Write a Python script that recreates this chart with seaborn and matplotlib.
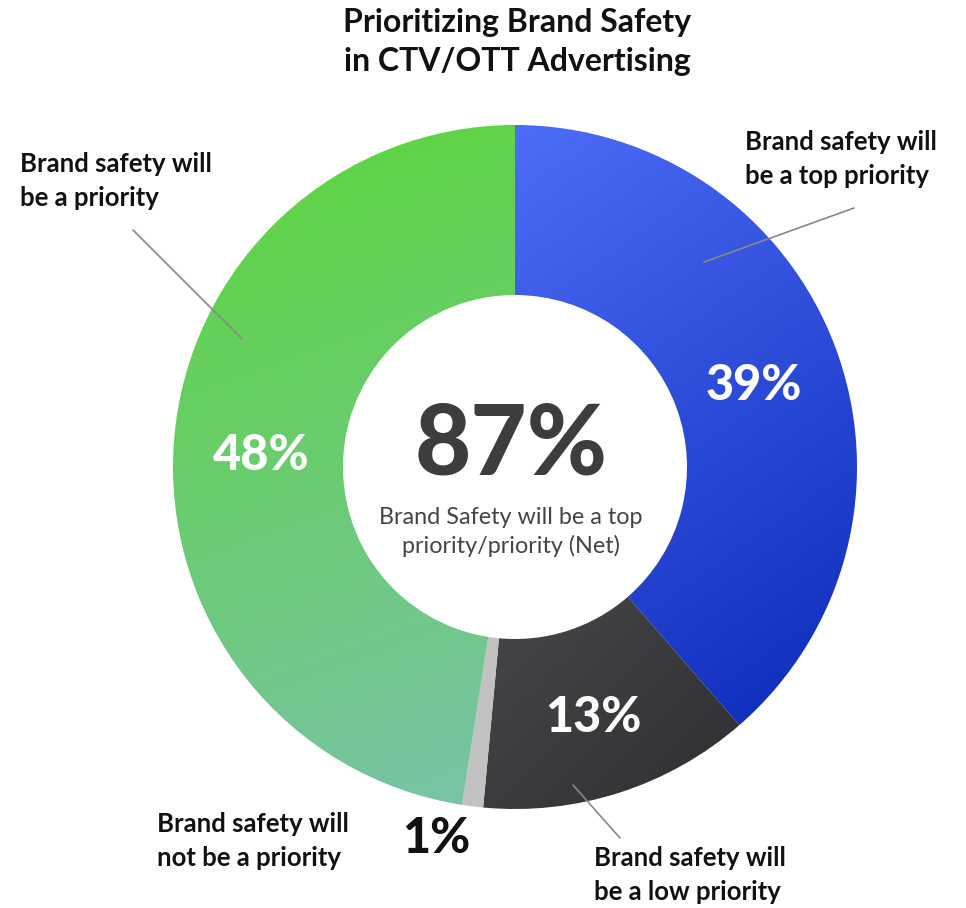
import numpy as np
import matplotlib
matplotlib.use("Agg")
import matplotlib.pyplot as plt
from matplotlib.colors import LinearSegmentedColormap
import seaborn as sns

# Survey shares, clockwise from 12 o'clock
categories = [
    "Brand safety will\nbe a top priority",
    "Brand safety will\nbe a low priority",
    "Brand safety will\nnot be a priority",
    "Brand safety will\nbe a priority",
]
shares = [39, 13, 1, 48]
net_label = "Brand Safety will be a top\npriority/priority (Net)"
title = "Prioritizing Brand Safety\nin CTV/OTT Advertising"

# gradient stops per slice: (start colour, end colour, direction in degrees)
gradients = [
    ("#4c6df8", "#0c2ab8", -55),
    ("#45474a", "#2e2f31", -45),
    ("#c2c2c2", "#c2c2c2", -90),
    ("#5cd63a", "#79c3a8", -70),
]

sns.set_theme(style="white")
plt.rcParams["font.family"] = ["Lato", "DejaVu Sans"]

W, H = 966, 908
fig = plt.figure(figsize=(W / 100, H / 100), dpi=100)
ax = fig.add_axes([0, 0, 1, 1])


def P(x, y):
    """Pixel position measured from the top-left corner -> data coords."""
    return x, H - y


cx, cy = P(515, 467)
R_OUT, R_IN = 342, 172

wedges, _ = ax.pie(
    shares,
    startangle=90,
    counterclock=False,
    radius=R_OUT,
    center=(cx, cy),
    wedgeprops=dict(width=R_OUT - R_IN, linewidth=0),
    frame=True,
)

# paint every slice with its own linear gradient, clipped to the wedge
for w, (c0, c1, ang) in zip(wedges, gradients):
    ext = w.get_path().get_extents()
    nx, ny = 200, 200
    xs = np.linspace(ext.x0, ext.x1, nx)
    ys = np.linspace(ext.y0, ext.y1, ny)
    X, Y = np.meshgrid(xs, ys)
    a = np.deg2rad(ang)
    proj = (X - ext.x0) * np.cos(a) + (Y - ext.y1) * np.sin(a)
    t = (proj - proj.min()) / max(proj.max() - proj.min(), 1e-9)
    cmap = LinearSegmentedColormap.from_list("g", [c0, c1])
    im = ax.imshow(t, cmap=cmap, extent=(ext.x0, ext.x1, ext.y0, ext.y1),
                   origin="lower", interpolation="bilinear", zorder=1)
    im.set_clip_path(w)
    w.set_facecolor("none")

ax.set_xlim(0, W)
ax.set_ylim(0, H)
ax.set_aspect("equal")
ax.axis("off")

# percentage labels inside the ring
for i, (w, v) in enumerate(zip(wedges, shares)):
    mid = np.deg2rad((w.theta1 + w.theta2) / 2)
    if v >= 5:
        r = 255
        ax.text(cx + r * np.cos(mid), cy + r * np.sin(mid) - 8, f"{v}%",
                ha="center", va="center", color="white",
                fontsize=35, fontweight="black", zorder=3)
    else:
        r = 372
        ax.text(cx + r * np.cos(mid) + 2, cy + r * np.sin(mid) - 2, f"{v}%",
                ha="right", va="center", color="#111111",
                fontsize=35, fontweight="black", zorder=3)

# centre figure: net share
net = shares[0] + shares[3]
ax.text(*P(511, 446), f"{net}%", ha="center", va="center", color="#3d3d3d",
        fontsize=70, fontweight="black", zorder=3)
ax.text(*P(511, 532), net_label, ha="center", va="center", color="#444444",
        fontsize=16.8, linespacing=1.35, zorder=3)

# title
ax.text(*P(517, 42), title, ha="center", va="center", color="#111111",
        fontsize=23, fontweight="bold", linespacing=1.45)

# callout labels with leader lines
callouts = [
    (categories[0], (745, 159), (854, 208), (704, 262)),
    (categories[3], (20, 181), (133, 230), (242, 339)),
    (categories[2], (157, 841), None, None),
    (categories[1], (594, 875), (620, 838), (573, 785)),
]
for text, (tx, ty), p0, p1 in callouts:
    ax.text(*P(tx, ty), text, ha="left", va="center", color="#111111",
            fontsize=18.5, fontweight="bold", linespacing=1.45, zorder=3)
    if p0 is not None:
        x0, y0 = P(*p0)
        x1, y1 = P(*p1)
        ax.plot([x0, x1], [y0, y1], color="#888888", lw=1.2, zorder=4)

fig.savefig("out.png", dpi=100)
